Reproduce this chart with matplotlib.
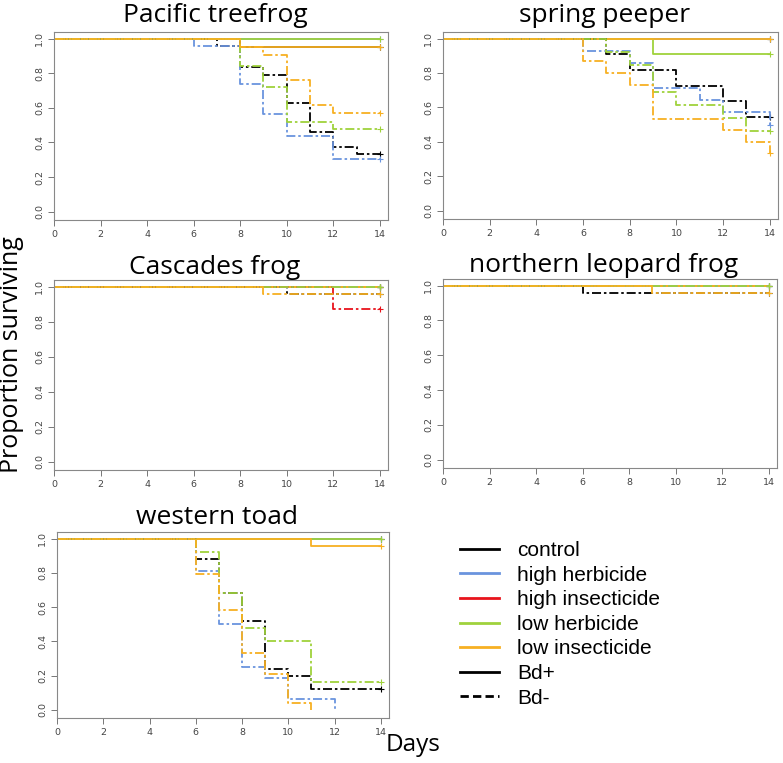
import matplotlib
matplotlib.use("Agg")
import matplotlib.pyplot as plt
from matplotlib.lines import Line2D

# treatment order and colours
treatments = ["control", "high herbicide", "high insecticide", "low herbicide", "low insecticide"]
colors = {"control": "black", "high herbicide": "#6a94de", "high insecticide": "#e8141c",
          "low herbicide": "#9fd23c", "low insecticide": "#f7b022"}

# survival curves: treatment -> (days with a drop, survival after each drop)
# solid lines
pt_solid = {"control": ([8], [0.952]), "high herbicide": ([], []),
            "low herbicide": ([], []), "low insecticide": ([8], [0.952])}
# dash-dot lines
pt_dash = {"control": ([7, 8, 9, 10, 11, 12, 13], [0.958, 0.833, 0.792, 0.625, 0.458, 0.375, 0.333]),
           "high herbicide": ([6, 8, 9, 10, 12], [0.957, 0.739, 0.565, 0.435, 0.304]),
           "low herbicide": ([8, 9, 10, 12], [0.84, 0.72, 0.52, 0.48]),
           "low insecticide": ([8, 9, 10, 11, 12], [0.952, 0.905, 0.762, 0.619, 0.571])}

sp_solid = {"control": ([], []), "high herbicide": ([], []),
            "low herbicide": ([9], [0.913]), "low insecticide": ([], [])}
sp_dash = {"control": ([7, 8, 10, 12, 13], [0.909, 0.818, 0.727, 0.636, 0.545]),
           "high herbicide": ([6, 8, 9, 11, 12, 14], [0.929, 0.857, 0.714, 0.643, 0.571, 0.5]),
           "low herbicide": ([7, 8, 9, 10, 12, 13], [0.923, 0.846, 0.692, 0.615, 0.538, 0.462]),
           "low insecticide": ([6, 7, 8, 9, 12, 13, 14], [0.867, 0.8, 0.733, 0.533, 0.467, 0.4, 0.333])}

cf_solid = {"control": ([], []), "high herbicide": ([], []), "high insecticide": ([], []),
            "low herbicide": ([], []), "low insecticide": ([], [])}
cf_dash = {"control": ([10], [0.958]), "low herbicide": ([], []), "high herbicide": ([], []),
           "high insecticide": ([12], [0.875]), "low insecticide": ([9], [0.958])}

nl_solid = {"control": ([], []), "high herbicide": ([], []),
            "low herbicide": ([], []), "low insecticide": ([], [])}
nl_dash = {"control": ([6], [0.958]), "high herbicide": ([], []),
           "low herbicide": ([], []), "low insecticide": ([9], [0.958])}

wt_solid = {"control": ([], []), "high herbicide": ([], []),
            "low herbicide": ([], []), "low insecticide": ([11], [0.955])}
wt_dash = {"control": ([6, 7, 8, 9, 10, 11], [0.88, 0.68, 0.52, 0.24, 0.2, 0.12]),
           "high herbicide": ([6, 7, 8, 9, 10, 12], [0.8125, 0.5, 0.25, 0.1875, 0.0625, 0.0]),
           "low herbicide": ([6, 7, 8, 9, 11], [0.92, 0.68, 0.48, 0.4, 0.16]),
           "low insecticide": ([6, 7, 8, 9, 10, 11], [0.792, 0.583, 0.333, 0.208, 0.042, 0.0])}

titles = ["Pacific treefrog", "spring peeper", "Cascades frog", "northern leopard frog", "western toad"]
panels = [(pt_solid, pt_dash), (sp_solid, sp_dash), (cf_solid, cf_dash),
          (nl_solid, nl_dash), (wt_solid, wt_dash)]
end_day = 14

W, H = 783, 763
fig = plt.figure(figsize=(W / 100, H / 100), dpi=100)

# axes boxes in pixels: left, top, right, bottom
boxes = [(54, 32, 388, 220), (443, 32, 778, 219),
         (54, 280, 388, 470), (443, 279, 777, 468),
         (57, 532, 389, 718)]
title_y = [16, 16, 268, 266, 518]

dash = (0, (5, 1.6, 1.4, 1.6))
title_font = "Open Sans"


def step_xy(times, vals):
    x = [0] + list(times)
    y = [1.0] + list(vals)
    if y[-1] > 0:
        x.append(end_day)
        y.append(y[-1])
    return x, y


for i in range(5):
    l, t, r, b = boxes[i]
    ax = fig.add_axes([l / W, 1 - b / H, (r - l) / W, (b - t) / H])
    solid, dashed = panels[i]
    for style, curves in (("-", solid), (dash, dashed)):
        for tr in treatments:
            if tr not in curves:
                continue
            x, y = step_xy(*curves[tr])
            ax.step(x, y, where="post", color=colors[tr], lw=1.3, linestyle=style)
            if y[-1] > 0:
                ax.plot(end_day, y[-1], marker="+", color=colors[tr], ms=5, mew=0.8)
    ax.set_xlim(0, 14.35)
    ax.set_ylim(-0.048, 1.038)
    ax.set_xticks(range(0, 15, 2))
    ax.set_yticks([0, 0.2, 0.4, 0.6, 0.8, 1.0])
    ax.set_yticklabels(["0.0", "0.2", "0.4", "0.6", "0.8", "1.0"], rotation=90, va="center")
    ax.tick_params(labelsize=6.8, labelcolor="#444444", color="#777777", length=4, width=0.7, pad=3)
    for s in ax.spines.values():
        s.set_color("#888888")
        s.set_linewidth(0.8)
    fig.text(((l + r) / 2 - 6) / W, 1 - title_y[i] / H, titles[i],
             ha="center", va="center", fontsize=19, family=title_font)

fig.text(12 / W, 1 - 355 / H, "Proportion surviving", rotation=90, ha="center", va="center",
         fontsize=18, family=title_font)
fig.text(413 / W, 1 - 745 / H, "Days", ha="center", va="center", fontsize=17.5, family=title_font)

handles = [Line2D([], [], color=colors[tr], lw=2) for tr in treatments]
handles.append(Line2D([], [], color="black", lw=2))
handles.append(Line2D([], [], color="black", lw=2, linestyle=(0, (3, 1.5))))
labels = treatments + ["Bd+", "Bd-"]
fig.legend(handles, labels, loc="upper left", bbox_to_anchor=(460 / W, 1 - 541 / H),
           frameon=False, prop={"family": "Liberation Sans", "size": 15},
           handlelength=1.85, handletextpad=0.9, labelspacing=0.27, borderaxespad=0, borderpad=0)

fig.savefig("out.png", dpi=100)
